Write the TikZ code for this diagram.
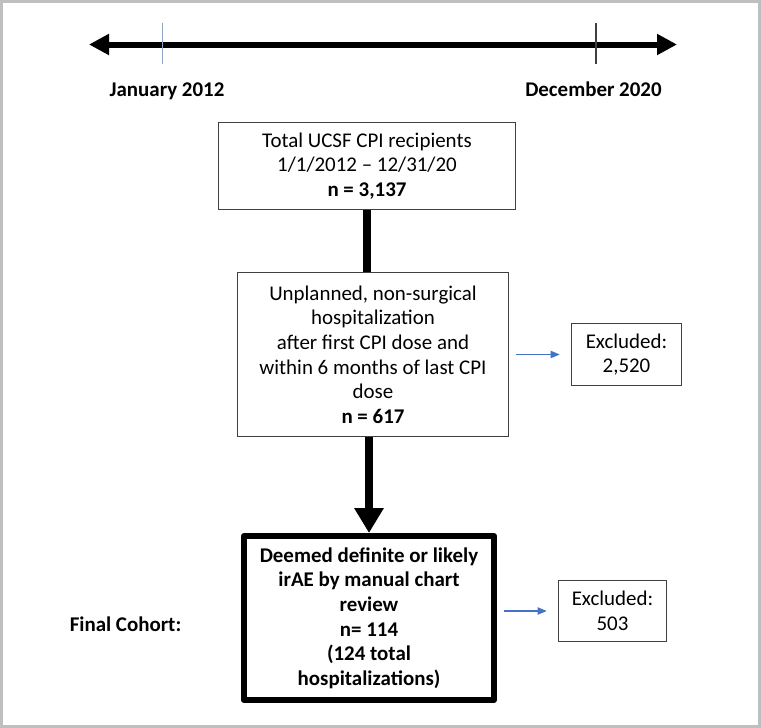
\documentclass[tikz,border=0pt]{standalone}
\usepackage{fontspec}
\setmainfont{Carlito}
\usetikzlibrary{arrows.meta}
\definecolor{framegray}{HTML}{BFBFBF}
\definecolor{boxgray}{HTML}{404040}
\definecolor{arrowblue}{HTML}{4472C4}
\definecolor{tickblue}{HTML}{8EA6C6}

\begin{document}
\begin{tikzpicture}[x=0.75pt, y=-0.75pt,
		txt/.style = {font=\fontsize{15.7}{18.5}\selectfont, align=center, inner sep=0pt},
		flowbox/.style = {txt, draw=boxgray, line width=1pt},
		cohortbox/.style = {txt, draw=black, line width=4.5pt, line join=round, font=\fontsize{15.7}{18.5}\selectfont\bfseries},
		thinarrow/.style = {arrowblue, line width=1pt, -{Triangle[length=7pt, width=5.5pt]}, shorten <=5pt, shorten >=8.25pt},
		thickline/.style = {line width=6.4pt}
		]
		
		\useasboundingbox (0,0) rectangle (761,728);
		
		\draw[framegray, line width=2.25pt] (1.5,1.5) rectangle (759.5,726.5);
		
		\coordinate (tlleft) at (89,44.5);
		
		\coordinate (tlright) at (677,44.5);
		
		\draw[line width=4.5pt, {Triangle[length=15pt, width=15pt]}-{Triangle[length=15pt, width=15pt]}] (tlleft) -- (tlright);
		
		\draw[tickblue, line width=1pt] (162.7,23) -- (162.7,64);
		
		\draw[boxgray, line width=1pt] (596,23) -- (596,64);
		
		\node[txt, font=\fontsize{15.7}{18.5}\selectfont\bfseries, anchor=base] (jan) at (167,96) {January 2012};
		
		\node[txt, font=\fontsize{15.7}{18.5}\selectfont\bfseries, anchor=base] (dec) at (593.5,96) {December 2020};
		
		\node[flowbox, minimum width=222.75pt, minimum height=65pt] (total) at (367,166) {Total UCSF CPI recipients\\1/1/2012 -- 12/31/20\\\textbf{n = 3,137}};
		
		\node[flowbox, minimum width=203pt, minimum height=123pt] (hosp) at (373,354.5) {Unplanned, non-surgical\\hospitalization\\after first CPI dose and\\within 6 months of last CPI\\dose\\\textbf{n = 617}};
		
		\node[flowbox, minimum width=82.5pt, minimum height=46.5pt] (excla) at (626.5,354.5) {Excluded:\\2,520};
		
		\node[cohortbox, minimum width=187.5pt, minimum height=123pt] (cohort) at (369,618) {Deemed definite or likely\\irAE by manual chart\\review\\n= 114\\(124 total\\hospitalizations)};
		
		\node[flowbox, minimum width=81pt, minimum height=46pt] (exclb) at (612.5,611) {Excluded:\\503};
		
		\node[txt, font=\fontsize{15.7}{18.5}\selectfont\bfseries] (final) at (125.5,624) {Final Cohort:};
		
		\draw[thickline] (total.south) -- (total.south |- hosp.north);
		
		\draw[line width=6pt, -{Triangle[length=18.75pt, width=21pt]}] (hosp.south -| cohort.north) -- (cohort.north);
		
		\draw[thinarrow] (hosp.east |- excla.west) -- (excla.west);
		
		\draw[thinarrow] (cohort.east |- exclb.west) -- (exclb.west);
		
	\end{tikzpicture}
\end{document}
